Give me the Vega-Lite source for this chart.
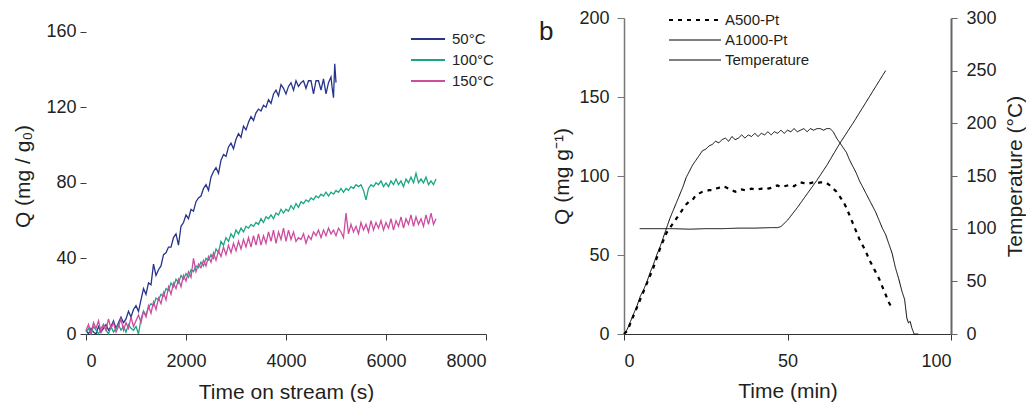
{
  "$schema": "https://vega.github.io/schema/vega-lite/v6.json",
  "padding": {"left": 12, "top": 9, "right": 0, "bottom": 0},
  "bounds": "flush",
  "spacing": 138,
  "config": {
    "font": "Liberation Sans",
    "view": {"stroke": null},
    "axis": {"grid": false, "labelFont": "Liberation Sans", "titleFont": "Liberation Sans", "titleFontWeight": "normal", "labelFontSize": 18, "titleFontSize": 21, "labelColor": "#231f20", "titleColor": "#231f20"},
    "text": {"font": "Liberation Sans", "color": "#231f20"}
  },
  "datasets": {
    "a": [
      {"s":"50°C","t":0,"q":2},{"s":"50°C","t":50,"q":0},{"s":"50°C","t":100,"q":3},{"s":"50°C","t":150,"q":1},{"s":"50°C","t":200,"q":0},{"s":"50°C","t":250,"q":4},{"s":"50°C","t":300,"q":1},{"s":"50°C","t":350,"q":3},{"s":"50°C","t":400,"q":5},{"s":"50°C","t":450,"q":2},{"s":"50°C","t":500,"q":4},{"s":"50°C","t":550,"q":7},{"s":"50°C","t":600,"q":3},{"s":"50°C","t":650,"q":6},{"s":"50°C","t":700,"q":9},{"s":"50°C","t":750,"q":6},{"s":"50°C","t":800,"q":8},{"s":"50°C","t":850,"q":12},{"s":"50°C","t":900,"q":9},{"s":"50°C","t":950,"q":13},{"s":"50°C","t":1000,"q":15},{"s":"50°C","t":1050,"q":12},{"s":"50°C","t":1100,"q":18},{"s":"50°C","t":1150,"q":24},{"s":"50°C","t":1200,"q":21},{"s":"50°C","t":1250,"q":27},{"s":"50°C","t":1300,"q":26},{"s":"50°C","t":1350,"q":37},{"s":"50°C","t":1400,"q":31},{"s":"50°C","t":1450,"q":34},{"s":"50°C","t":1500,"q":36},{"s":"50°C","t":1550,"q":42},{"s":"50°C","t":1600,"q":43},{"s":"50°C","t":1650,"q":46},{"s":"50°C","t":1700,"q":46},{"s":"50°C","t":1750,"q":51},{"s":"50°C","t":1800,"q":53},{"s":"50°C","t":1850,"q":47},{"s":"50°C","t":1900,"q":57},{"s":"50°C","t":1950,"q":59},{"s":"50°C","t":2000,"q":63},{"s":"50°C","t":2050,"q":61},{"s":"50°C","t":2100,"q":66},{"s":"50°C","t":2150,"q":65},{"s":"50°C","t":2200,"q":70},{"s":"50°C","t":2250,"q":72},{"s":"50°C","t":2300,"q":73},{"s":"50°C","t":2350,"q":77},{"s":"50°C","t":2400,"q":79},{"s":"50°C","t":2450,"q":76},{"s":"50°C","t":2500,"q":83},{"s":"50°C","t":2550,"q":86},{"s":"50°C","t":2600,"q":88},{"s":"50°C","t":2650,"q":85},{"s":"50°C","t":2700,"q":92},{"s":"50°C","t":2750,"q":95},{"s":"50°C","t":2800,"q":94},{"s":"50°C","t":2850,"q":99},{"s":"50°C","t":2900,"q":101},{"s":"50°C","t":2950,"q":98},{"s":"50°C","t":3000,"q":103},{"s":"50°C","t":3050,"q":106},{"s":"50°C","t":3100,"q":104},{"s":"50°C","t":3150,"q":110},{"s":"50°C","t":3200,"q":108},{"s":"50°C","t":3250,"q":112},{"s":"50°C","t":3300,"q":115},{"s":"50°C","t":3350,"q":113},{"s":"50°C","t":3400,"q":117},{"s":"50°C","t":3450,"q":119},{"s":"50°C","t":3500,"q":118},{"s":"50°C","t":3550,"q":121},{"s":"50°C","t":3600,"q":120},{"s":"50°C","t":3650,"q":124},{"s":"50°C","t":3700,"q":122},{"s":"50°C","t":3750,"q":127},{"s":"50°C","t":3800,"q":129},{"s":"50°C","t":3850,"q":126},{"s":"50°C","t":3900,"q":132},{"s":"50°C","t":3950,"q":130},{"s":"50°C","t":4000,"q":127},{"s":"50°C","t":4050,"q":131},{"s":"50°C","t":4100,"q":133},{"s":"50°C","t":4150,"q":129},{"s":"50°C","t":4200,"q":134},{"s":"50°C","t":4250,"q":131},{"s":"50°C","t":4300,"q":133},{"s":"50°C","t":4350,"q":134},{"s":"50°C","t":4400,"q":130},{"s":"50°C","t":4450,"q":134},{"s":"50°C","t":4500,"q":134},{"s":"50°C","t":4550,"q":127},{"s":"50°C","t":4600,"q":134},{"s":"50°C","t":4650,"q":134},{"s":"50°C","t":4700,"q":129},{"s":"50°C","t":4750,"q":135},{"s":"50°C","t":4800,"q":127},{"s":"50°C","t":4850,"q":133},{"s":"50°C","t":4900,"q":136},{"s":"50°C","t":4920,"q":131},{"s":"50°C","t":4950,"q":125},{"s":"50°C","t":4975,"q":143},{"s":"50°C","t":5000,"q":133},
      {"s":"100°C","t":0,"q":1},{"s":"100°C","t":50,"q":3},{"s":"100°C","t":100,"q":0},{"s":"100°C","t":150,"q":4},{"s":"100°C","t":200,"q":2},{"s":"100°C","t":250,"q":0},{"s":"100°C","t":300,"q":3},{"s":"100°C","t":350,"q":5},{"s":"100°C","t":400,"q":2},{"s":"100°C","t":450,"q":0},{"s":"100°C","t":500,"q":4},{"s":"100°C","t":550,"q":1},{"s":"100°C","t":600,"q":3},{"s":"100°C","t":650,"q":5},{"s":"100°C","t":700,"q":2},{"s":"100°C","t":750,"q":4},{"s":"100°C","t":800,"q":1},{"s":"100°C","t":850,"q":5},{"s":"100°C","t":900,"q":3},{"s":"100°C","t":950,"q":2},{"s":"100°C","t":1000,"q":4},{"s":"100°C","t":1050,"q":0},{"s":"100°C","t":1100,"q":8},{"s":"100°C","t":1150,"q":12},{"s":"100°C","t":1200,"q":10},{"s":"100°C","t":1250,"q":14},{"s":"100°C","t":1300,"q":16},{"s":"100°C","t":1350,"q":15},{"s":"100°C","t":1400,"q":19},{"s":"100°C","t":1450,"q":18},{"s":"100°C","t":1500,"q":21},{"s":"100°C","t":1550,"q":20},{"s":"100°C","t":1600,"q":24},{"s":"100°C","t":1650,"q":23},{"s":"100°C","t":1700,"q":27},{"s":"100°C","t":1750,"q":25},{"s":"100°C","t":1800,"q":29},{"s":"100°C","t":1850,"q":27},{"s":"100°C","t":1900,"q":31},{"s":"100°C","t":1950,"q":29},{"s":"100°C","t":2000,"q":32},{"s":"100°C","t":2050,"q":30},{"s":"100°C","t":2100,"q":34},{"s":"100°C","t":2150,"q":33},{"s":"100°C","t":2200,"q":36},{"s":"100°C","t":2250,"q":35},{"s":"100°C","t":2300,"q":38},{"s":"100°C","t":2350,"q":36},{"s":"100°C","t":2400,"q":40},{"s":"100°C","t":2450,"q":39},{"s":"100°C","t":2500,"q":42},{"s":"100°C","t":2550,"q":40},{"s":"100°C","t":2600,"q":45},{"s":"100°C","t":2650,"q":43},{"s":"100°C","t":2700,"q":49},{"s":"100°C","t":2750,"q":47},{"s":"100°C","t":2800,"q":51},{"s":"100°C","t":2850,"q":49},{"s":"100°C","t":2900,"q":53},{"s":"100°C","t":2950,"q":51},{"s":"100°C","t":3000,"q":55},{"s":"100°C","t":3050,"q":53},{"s":"100°C","t":3100,"q":56},{"s":"100°C","t":3150,"q":54},{"s":"100°C","t":3200,"q":57},{"s":"100°C","t":3250,"q":56},{"s":"100°C","t":3300,"q":58},{"s":"100°C","t":3350,"q":57},{"s":"100°C","t":3400,"q":59},{"s":"100°C","t":3450,"q":58},{"s":"100°C","t":3500,"q":61},{"s":"100°C","t":3550,"q":59},{"s":"100°C","t":3600,"q":62},{"s":"100°C","t":3650,"q":61},{"s":"100°C","t":3700,"q":63},{"s":"100°C","t":3750,"q":61},{"s":"100°C","t":3800,"q":64},{"s":"100°C","t":3850,"q":63},{"s":"100°C","t":3900,"q":66},{"s":"100°C","t":3950,"q":64},{"s":"100°C","t":4000,"q":66},{"s":"100°C","t":4050,"q":65},{"s":"100°C","t":4100,"q":68},{"s":"100°C","t":4150,"q":66},{"s":"100°C","t":4200,"q":69},{"s":"100°C","t":4250,"q":67},{"s":"100°C","t":4300,"q":70},{"s":"100°C","t":4350,"q":69},{"s":"100°C","t":4400,"q":71},{"s":"100°C","t":4450,"q":70},{"s":"100°C","t":4500,"q":72},{"s":"100°C","t":4550,"q":71},{"s":"100°C","t":4600,"q":73},{"s":"100°C","t":4650,"q":72},{"s":"100°C","t":4700,"q":74},{"s":"100°C","t":4750,"q":73},{"s":"100°C","t":4800,"q":75},{"s":"100°C","t":4850,"q":73},{"s":"100°C","t":4900,"q":75},{"s":"100°C","t":4950,"q":74},{"s":"100°C","t":5000,"q":76},{"s":"100°C","t":5050,"q":75},{"s":"100°C","t":5100,"q":77},{"s":"100°C","t":5150,"q":75},{"s":"100°C","t":5200,"q":77},{"s":"100°C","t":5250,"q":76},{"s":"100°C","t":5300,"q":78},{"s":"100°C","t":5350,"q":77},{"s":"100°C","t":5400,"q":79},{"s":"100°C","t":5450,"q":78},{"s":"100°C","t":5500,"q":79},{"s":"100°C","t":5550,"q":76},{"s":"100°C","t":5600,"q":71},{"s":"100°C","t":5650,"q":77},{"s":"100°C","t":5700,"q":79},{"s":"100°C","t":5750,"q":78},{"s":"100°C","t":5800,"q":80},{"s":"100°C","t":5850,"q":79},{"s":"100°C","t":5900,"q":81},{"s":"100°C","t":5950,"q":78},{"s":"100°C","t":6000,"q":80},{"s":"100°C","t":6050,"q":78},{"s":"100°C","t":6100,"q":81},{"s":"100°C","t":6150,"q":79},{"s":"100°C","t":6200,"q":82},{"s":"100°C","t":6250,"q":79},{"s":"100°C","t":6300,"q":81},{"s":"100°C","t":6350,"q":78},{"s":"100°C","t":6400,"q":82},{"s":"100°C","t":6450,"q":80},{"s":"100°C","t":6500,"q":83},{"s":"100°C","t":6550,"q":80},{"s":"100°C","t":6600,"q":85},{"s":"100°C","t":6650,"q":80},{"s":"100°C","t":6700,"q":82},{"s":"100°C","t":6750,"q":80},{"s":"100°C","t":6800,"q":83},{"s":"100°C","t":6850,"q":79},{"s":"100°C","t":6900,"q":81},{"s":"100°C","t":6950,"q":79},{"s":"100°C","t":7000,"q":82},
      {"s":"150°C","t":0,"q":2},{"s":"150°C","t":50,"q":5},{"s":"150°C","t":100,"q":0},{"s":"150°C","t":150,"q":6},{"s":"150°C","t":200,"q":3},{"s":"150°C","t":250,"q":7},{"s":"150°C","t":300,"q":1},{"s":"150°C","t":350,"q":5},{"s":"150°C","t":400,"q":2},{"s":"150°C","t":450,"q":8},{"s":"150°C","t":500,"q":3},{"s":"150°C","t":550,"q":6},{"s":"150°C","t":600,"q":1},{"s":"150°C","t":650,"q":4},{"s":"150°C","t":700,"q":8},{"s":"150°C","t":750,"q":2},{"s":"150°C","t":800,"q":6},{"s":"150°C","t":850,"q":3},{"s":"150°C","t":900,"q":9},{"s":"150°C","t":950,"q":4},{"s":"150°C","t":1000,"q":7},{"s":"150°C","t":1050,"q":10},{"s":"150°C","t":1100,"q":6},{"s":"150°C","t":1150,"q":12},{"s":"150°C","t":1200,"q":9},{"s":"150°C","t":1250,"q":15},{"s":"150°C","t":1300,"q":11},{"s":"150°C","t":1350,"q":17},{"s":"150°C","t":1400,"q":13},{"s":"150°C","t":1450,"q":19},{"s":"150°C","t":1500,"q":16},{"s":"150°C","t":1550,"q":22},{"s":"150°C","t":1600,"q":18},{"s":"150°C","t":1650,"q":25},{"s":"150°C","t":1700,"q":21},{"s":"150°C","t":1750,"q":27},{"s":"150°C","t":1800,"q":24},{"s":"150°C","t":1850,"q":29},{"s":"150°C","t":1900,"q":25},{"s":"150°C","t":1950,"q":31},{"s":"150°C","t":2000,"q":28},{"s":"150°C","t":2050,"q":33},{"s":"150°C","t":2100,"q":30},{"s":"150°C","t":2150,"q":40},{"s":"150°C","t":2200,"q":33},{"s":"150°C","t":2250,"q":37},{"s":"150°C","t":2300,"q":35},{"s":"150°C","t":2350,"q":39},{"s":"150°C","t":2400,"q":36},{"s":"150°C","t":2450,"q":41},{"s":"150°C","t":2500,"q":38},{"s":"150°C","t":2550,"q":43},{"s":"150°C","t":2600,"q":39},{"s":"150°C","t":2650,"q":44},{"s":"150°C","t":2700,"q":41},{"s":"150°C","t":2750,"q":46},{"s":"150°C","t":2800,"q":42},{"s":"150°C","t":2850,"q":47},{"s":"150°C","t":2900,"q":43},{"s":"150°C","t":2950,"q":48},{"s":"150°C","t":3000,"q":44},{"s":"150°C","t":3050,"q":49},{"s":"150°C","t":3100,"q":45},{"s":"150°C","t":3150,"q":50},{"s":"150°C","t":3200,"q":46},{"s":"150°C","t":3250,"q":51},{"s":"150°C","t":3300,"q":46},{"s":"150°C","t":3350,"q":52},{"s":"150°C","t":3400,"q":47},{"s":"150°C","t":3450,"q":53},{"s":"150°C","t":3500,"q":47},{"s":"150°C","t":3550,"q":52},{"s":"150°C","t":3600,"q":48},{"s":"150°C","t":3650,"q":54},{"s":"150°C","t":3700,"q":49},{"s":"150°C","t":3750,"q":55},{"s":"150°C","t":3800,"q":48},{"s":"150°C","t":3850,"q":54},{"s":"150°C","t":3900,"q":50},{"s":"150°C","t":3950,"q":56},{"s":"150°C","t":4000,"q":49},{"s":"150°C","t":4050,"q":55},{"s":"150°C","t":4100,"q":50},{"s":"150°C","t":4150,"q":54},{"s":"150°C","t":4200,"q":49},{"s":"150°C","t":4250,"q":51},{"s":"150°C","t":4300,"q":50},{"s":"150°C","t":4350,"q":53},{"s":"150°C","t":4400,"q":48},{"s":"150°C","t":4450,"q":52},{"s":"150°C","t":4500,"q":50},{"s":"150°C","t":4550,"q":54},{"s":"150°C","t":4600,"q":52},{"s":"150°C","t":4650,"q":55},{"s":"150°C","t":4700,"q":51},{"s":"150°C","t":4750,"q":55},{"s":"150°C","t":4800,"q":52},{"s":"150°C","t":4850,"q":56},{"s":"150°C","t":4900,"q":53},{"s":"150°C","t":4950,"q":55},{"s":"150°C","t":5000,"q":52},{"s":"150°C","t":5050,"q":56},{"s":"150°C","t":5100,"q":54},{"s":"150°C","t":5150,"q":51},{"s":"150°C","t":5200,"q":64},{"s":"150°C","t":5250,"q":53},{"s":"150°C","t":5300,"q":58},{"s":"150°C","t":5350,"q":54},{"s":"150°C","t":5400,"q":57},{"s":"150°C","t":5450,"q":53},{"s":"150°C","t":5500,"q":59},{"s":"150°C","t":5550,"q":55},{"s":"150°C","t":5600,"q":58},{"s":"150°C","t":5650,"q":54},{"s":"150°C","t":5700,"q":60},{"s":"150°C","t":5750,"q":55},{"s":"150°C","t":5800,"q":59},{"s":"150°C","t":5850,"q":56},{"s":"150°C","t":5900,"q":60},{"s":"150°C","t":5950,"q":55},{"s":"150°C","t":6000,"q":59},{"s":"150°C","t":6050,"q":56},{"s":"150°C","t":6100,"q":61},{"s":"150°C","t":6150,"q":55},{"s":"150°C","t":6200,"q":60},{"s":"150°C","t":6250,"q":57},{"s":"150°C","t":6300,"q":62},{"s":"150°C","t":6350,"q":56},{"s":"150°C","t":6400,"q":61},{"s":"150°C","t":6450,"q":58},{"s":"150°C","t":6500,"q":63},{"s":"150°C","t":6550,"q":57},{"s":"150°C","t":6600,"q":62},{"s":"150°C","t":6650,"q":58},{"s":"150°C","t":6700,"q":61},{"s":"150°C","t":6750,"q":57},{"s":"150°C","t":6800,"q":63},{"s":"150°C","t":6850,"q":58},{"s":"150°C","t":6900,"q":64},{"s":"150°C","t":6950,"q":58},{"s":"150°C","t":7000,"q":61}
    ],
    "a500": [
      {"s":"A500-Pt","t":0,"q":0},{"s":"A500-Pt","t":1,"q":2},{"s":"A500-Pt","t":2,"q":7},{"s":"A500-Pt","t":3,"q":12},{"s":"A500-Pt","t":4,"q":17},{"s":"A500-Pt","t":5,"q":22},{"s":"A500-Pt","t":6,"q":27},{"s":"A500-Pt","t":7,"q":32},{"s":"A500-Pt","t":8,"q":37},{"s":"A500-Pt","t":9,"q":42},{"s":"A500-Pt","t":10,"q":48},{"s":"A500-Pt","t":11,"q":54},{"s":"A500-Pt","t":12,"q":59},{"s":"A500-Pt","t":13,"q":64},{"s":"A500-Pt","t":14,"q":67},{"s":"A500-Pt","t":15,"q":70},{"s":"A500-Pt","t":16,"q":73},{"s":"A500-Pt","t":17,"q":76},{"s":"A500-Pt","t":18,"q":79},{"s":"A500-Pt","t":19,"q":82},{"s":"A500-Pt","t":20,"q":84},{"s":"A500-Pt","t":21,"q":85},{"s":"A500-Pt","t":22,"q":88},{"s":"A500-Pt","t":23,"q":89},{"s":"A500-Pt","t":24,"q":90},{"s":"A500-Pt","t":25,"q":90.5},{"s":"A500-Pt","t":26,"q":91},{"s":"A500-Pt","t":27,"q":91},{"s":"A500-Pt","t":28,"q":92},{"s":"A500-Pt","t":29,"q":92.5},{"s":"A500-Pt","t":30,"q":93.5},{"s":"A500-Pt","t":31,"q":93},{"s":"A500-Pt","t":32,"q":92},{"s":"A500-Pt","t":33,"q":91},{"s":"A500-Pt","t":34,"q":90},{"s":"A500-Pt","t":35,"q":91},{"s":"A500-Pt","t":36,"q":91.5},{"s":"A500-Pt","t":37,"q":91},{"s":"A500-Pt","t":38,"q":91.5},{"s":"A500-Pt","t":39,"q":92},{"s":"A500-Pt","t":40,"q":91.5},{"s":"A500-Pt","t":41,"q":91.5},{"s":"A500-Pt","t":42,"q":92},{"s":"A500-Pt","t":43,"q":91.5},{"s":"A500-Pt","t":44,"q":92},{"s":"A500-Pt","t":45,"q":92.5},{"s":"A500-Pt","t":46,"q":93.5},{"s":"A500-Pt","t":47,"q":94},{"s":"A500-Pt","t":48,"q":93},{"s":"A500-Pt","t":49,"q":93.5},{"s":"A500-Pt","t":50,"q":94},{"s":"A500-Pt","t":51,"q":94.5},{"s":"A500-Pt","t":52,"q":93.5},{"s":"A500-Pt","t":53,"q":95},{"s":"A500-Pt","t":54,"q":96},{"s":"A500-Pt","t":55,"q":95.5},{"s":"A500-Pt","t":56,"q":95},{"s":"A500-Pt","t":57,"q":95.5},{"s":"A500-Pt","t":58,"q":96},{"s":"A500-Pt","t":59,"q":95.5},{"s":"A500-Pt","t":60,"q":96},{"s":"A500-Pt","t":61,"q":96},{"s":"A500-Pt","t":62,"q":95.5},{"s":"A500-Pt","t":63,"q":94},{"s":"A500-Pt","t":64,"q":92},{"s":"A500-Pt","t":65,"q":90},{"s":"A500-Pt","t":66,"q":87},{"s":"A500-Pt","t":67,"q":84},{"s":"A500-Pt","t":68,"q":80},{"s":"A500-Pt","t":69,"q":75},{"s":"A500-Pt","t":70,"q":70},{"s":"A500-Pt","t":71,"q":65},{"s":"A500-Pt","t":72,"q":60},{"s":"A500-Pt","t":73,"q":56},{"s":"A500-Pt","t":74,"q":52},{"s":"A500-Pt","t":75,"q":47},{"s":"A500-Pt","t":76,"q":43},{"s":"A500-Pt","t":77,"q":39},{"s":"A500-Pt","t":78,"q":35},{"s":"A500-Pt","t":79,"q":30},{"s":"A500-Pt","t":80,"q":25},{"s":"A500-Pt","t":81,"q":20},{"s":"A500-Pt","t":82,"q":16}
    ],
    "a1000": [
      {"s":"A1000-Pt","t":0,"q":0},{"s":"A1000-Pt","t":1,"q":3},{"s":"A1000-Pt","t":2,"q":8},{"s":"A1000-Pt","t":3,"q":13},{"s":"A1000-Pt","t":4,"q":18},{"s":"A1000-Pt","t":5,"q":24},{"s":"A1000-Pt","t":6,"q":28},{"s":"A1000-Pt","t":7,"q":33},{"s":"A1000-Pt","t":8,"q":39},{"s":"A1000-Pt","t":9,"q":44},{"s":"A1000-Pt","t":10,"q":50},{"s":"A1000-Pt","t":11,"q":55},{"s":"A1000-Pt","t":12,"q":61},{"s":"A1000-Pt","t":13,"q":67},{"s":"A1000-Pt","t":14,"q":73},{"s":"A1000-Pt","t":15,"q":78},{"s":"A1000-Pt","t":16,"q":83},{"s":"A1000-Pt","t":17,"q":88},{"s":"A1000-Pt","t":18,"q":93},{"s":"A1000-Pt","t":19,"q":99},{"s":"A1000-Pt","t":20,"q":103},{"s":"A1000-Pt","t":21,"q":107},{"s":"A1000-Pt","t":22,"q":110},{"s":"A1000-Pt","t":23,"q":113},{"s":"A1000-Pt","t":24,"q":116},{"s":"A1000-Pt","t":25,"q":117},{"s":"A1000-Pt","t":26,"q":119},{"s":"A1000-Pt","t":27,"q":120},{"s":"A1000-Pt","t":28,"q":122},{"s":"A1000-Pt","t":29,"q":121},{"s":"A1000-Pt","t":30,"q":123},{"s":"A1000-Pt","t":31,"q":124},{"s":"A1000-Pt","t":32,"q":122},{"s":"A1000-Pt","t":33,"q":125},{"s":"A1000-Pt","t":34,"q":123},{"s":"A1000-Pt","t":35,"q":124},{"s":"A1000-Pt","t":36,"q":126},{"s":"A1000-Pt","t":37,"q":124},{"s":"A1000-Pt","t":38,"q":126},{"s":"A1000-Pt","t":39,"q":125},{"s":"A1000-Pt","t":40,"q":127},{"s":"A1000-Pt","t":41,"q":125},{"s":"A1000-Pt","t":42,"q":127},{"s":"A1000-Pt","t":43,"q":126},{"s":"A1000-Pt","t":44,"q":128},{"s":"A1000-Pt","t":45,"q":126},{"s":"A1000-Pt","t":46,"q":128},{"s":"A1000-Pt","t":47,"q":127},{"s":"A1000-Pt","t":48,"q":129},{"s":"A1000-Pt","t":49,"q":127},{"s":"A1000-Pt","t":50,"q":129},{"s":"A1000-Pt","t":51,"q":128},{"s":"A1000-Pt","t":52,"q":130},{"s":"A1000-Pt","t":53,"q":128},{"s":"A1000-Pt","t":54,"q":129},{"s":"A1000-Pt","t":55,"q":130},{"s":"A1000-Pt","t":56,"q":128},{"s":"A1000-Pt","t":57,"q":130},{"s":"A1000-Pt","t":58,"q":129},{"s":"A1000-Pt","t":59,"q":130},{"s":"A1000-Pt","t":60,"q":130},{"s":"A1000-Pt","t":61,"q":129},{"s":"A1000-Pt","t":62,"q":130},{"s":"A1000-Pt","t":63,"q":130},{"s":"A1000-Pt","t":64,"q":128},{"s":"A1000-Pt","t":65,"q":124},{"s":"A1000-Pt","t":66,"q":121},{"s":"A1000-Pt","t":67,"q":118},{"s":"A1000-Pt","t":68,"q":115},{"s":"A1000-Pt","t":69,"q":110},{"s":"A1000-Pt","t":70,"q":106},{"s":"A1000-Pt","t":71,"q":102},{"s":"A1000-Pt","t":72,"q":97},{"s":"A1000-Pt","t":73,"q":93},{"s":"A1000-Pt","t":74,"q":89},{"s":"A1000-Pt","t":75,"q":85},{"s":"A1000-Pt","t":76,"q":81},{"s":"A1000-Pt","t":77,"q":77},{"s":"A1000-Pt","t":78,"q":72},{"s":"A1000-Pt","t":79,"q":67},{"s":"A1000-Pt","t":80,"q":63},{"s":"A1000-Pt","t":81,"q":57},{"s":"A1000-Pt","t":82,"q":51},{"s":"A1000-Pt","t":83,"q":42},{"s":"A1000-Pt","t":84,"q":35},{"s":"A1000-Pt","t":85,"q":27},{"s":"A1000-Pt","t":85.8,"q":22},{"s":"A1000-Pt","t":86.5,"q":10},{"s":"A1000-Pt","t":87,"q":7},{"s":"A1000-Pt","t":87.5,"q":8},{"s":"A1000-Pt","t":88,"q":4},{"s":"A1000-Pt","t":88.7,"q":0},{"s":"A1000-Pt","t":90,"q":0}
    ],
    "temp": [
      {"s":"Temperature","t":4.8,"T":100},{"s":"Temperature","t":10,"T":100},{"s":"Temperature","t":15,"T":100},{"s":"Temperature","t":20,"T":99.5},{"s":"Temperature","t":25,"T":100},{"s":"Temperature","t":30,"T":100},{"s":"Temperature","t":35,"T":100.5},{"s":"Temperature","t":40,"T":100.5},{"s":"Temperature","t":45,"T":101},{"s":"Temperature","t":47,"T":101},{"s":"Temperature","t":48,"T":102},{"s":"Temperature","t":49,"T":105},{"s":"Temperature","t":50,"T":108},{"s":"Temperature","t":51,"T":112},{"s":"Temperature","t":53,"T":120},{"s":"Temperature","t":56,"T":133},{"s":"Temperature","t":59,"T":146},{"s":"Temperature","t":62,"T":160},{"s":"Temperature","t":66,"T":181},{"s":"Temperature","t":70,"T":200},{"s":"Temperature","t":74,"T":220},{"s":"Temperature","t":77,"T":235},{"s":"Temperature","t":80,"T":250}
    ]
  },
  "hconcat": [
    {
      "width": 400,
      "height": 316,
      "layer": [
        {
          "data": {"name": "a"},
          "mark": {"type": "line", "strokeWidth": 1.3},
          "encoding": {
            "x": {"field": "t", "type": "quantitative", "scale": {"domain": [0, 8000], "nice": false},
                  "axis": {"values": [0, 2000, 4000, 6000, 8000], "format": "d", "title": "Time on stream (s)", "domainColor": "#3a3a3a", "tickColor": "#3a3a3a", "tickSize": 6, "labelPadding": 12, "titlePadding": 11}},
            "y": {"field": "q", "type": "quantitative", "scale": {"domain": [0, 167.2], "nice": false},
                  "axis": {"values": [0, 40, 80, 120, 160], "domain": false, "title": "Q (mg / g₀)", "tickColor": "#3a3a3a", "tickSize": 6, "labelPadding": 4, "titlePadding": 12}},
            "color": {"field": "s", "type": "nominal", "sort": null,
                      "scale": {"domain": ["50°C", "100°C", "150°C"], "range": ["#27348b", "#1aa683", "#cc4c9f"]},
                      "legend": {"orient": "none", "legendX": 324, "legendY": 10.5, "title": null, "symbolType": "stroke", "symbolSize": 1156, "symbolStrokeWidth": 2, "clipHeight": 21, "rowPadding": 0, "padding": 0, "labelFontSize": 15, "labelOffset": 6, "labelColor": "#231f20", "labelFont": "Liberation Sans"}}
          }
        },
        {
          "mark": {"type": "rule", "color": "#3a3a3a", "strokeWidth": 1},
          "encoding": {"x": {"datum": 0, "type": "quantitative"}, "y": {"datum": 0, "type": "quantitative"}, "y2": {"datum": 160}}
        },
        {
          "mark": {"type": "text", "fontSize": 25, "align": "left", "baseline": "alphabetic"},
          "encoding": {"x": {"datum": 240, "type": "quantitative"}, "y": {"datum": 155.4, "type": "quantitative"}, "text": {"value": "a"}}
        },
        {
          "mark": {"type": "text", "fontSize": 19, "align": "left", "baseline": "alphabetic"},
          "encoding": {"x": {"datum": 6020, "type": "quantitative"}, "y": {"datum": 30, "type": "quantitative"}, "text": {"value": "AHPt-500"}}
        }
      ]
    },
    {
      "width": 327,
      "height": 316,
      "layer": [
        {
          "layer": [
            {
              "data": {"name": "a500"},
              "mark": {"type": "line", "color": "black", "strokeWidth": 2.2},
              "encoding": {
                "x": {"field": "t", "type": "quantitative", "scale": {"domain": [0, 100], "nice": false},
                      "axis": {"values": [0, 50, 100], "title": "Time (min)", "domainColor": "#333", "tickColor": "#333", "tickSize": 6, "labelPadding": 12, "titlePadding": 10}},
                "y": {"field": "q", "type": "quantitative", "scale": {"domain": [0, 200], "nice": false},
                      "axis": {"values": [0, 50, 100, 150, 200], "title": "Q (mg g⁻¹)", "domainColor": "#777", "domainWidth": 1.5, "tickColor": "#777", "tickSize": 7, "labelPadding": 8, "titlePadding": 6}},
                "strokeDash": {"field": "s", "type": "nominal", "sort": null,
                               "scale": {"domain": ["A500-Pt", "A1000-Pt", "Temperature"], "range": [[4, 5], [1, 0], [1, 0]]},
                               "legend": {"orient": "none", "legendX": 575.5, "legendY": -7.75, "title": null, "symbolType": "M0,0H8.667", "symbolSize": 144, "symbolStrokeColor": "black", "symbolStrokeWidth": 1, "clipHeight": 19.5, "rowPadding": 0, "padding": 0, "labelFontSize": 15, "labelOffset": 48.5, "labelColor": "#231f20", "labelFont": "Liberation Sans",
                                          "encode": {"symbols": {"update": {"strokeWidth": {"signal": "(datum && datum.value === 'A500-Pt') ? 2.2 : 1"}}}}}}
              }
            },
            {
              "data": {"name": "a1000"},
              "mark": {"type": "line", "color": "black", "strokeWidth": 1},
              "encoding": {
                "x": {"field": "t", "type": "quantitative"},
                "y": {"field": "q", "type": "quantitative"},
                "strokeDash": {"field": "s", "type": "nominal"}
              }
            },
            {
              "data": {"values": [{"lab": "b"}]},
              "mark": {"type": "text", "fontSize": 26, "align": "left", "baseline": "alphabetic"},
              "encoding": {"x": {"datum": -26, "type": "quantitative"}, "y": {"datum": 186.3, "type": "quantitative"}, "text": {"field": "lab"}}
            }
          ]
        },
        {
          "data": {"name": "temp"},
          "mark": {"type": "line", "color": "black", "strokeWidth": 1},
          "encoding": {
            "x": {"field": "t", "type": "quantitative"},
            "y": {"field": "T", "type": "quantitative", "scale": {"domain": [0, 300], "nice": false},
                  "axis": {"orient": "right", "values": [0, 50, 100, 150, 200, 250, 300], "title": "Temperature (°C)", "titleAngle": 270, "titleBaseline": "top", "domainColor": "#666", "domainWidth": 2, "tickColor": "#666", "tickSize": 6, "labelPadding": 9, "titlePadding": 8}},
            "strokeDash": {"field": "s", "type": "nominal"}
          }
        }
      ],
      "resolve": {"scale": {"y": "independent"}}
    }
  ]
}
